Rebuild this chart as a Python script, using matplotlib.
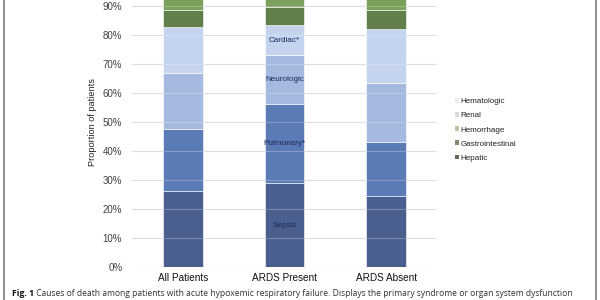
import matplotlib
matplotlib.use("Agg")
import matplotlib.pyplot as plt
import numpy as np
from matplotlib.patches import Patch
from matplotlib.lines import Line2D

categories = ["All Patients", "ARDS Present", "ARDS Absent"]
causes = ["Sepsis", "Pulmonary", "Neurologic", "Cardiac", "Hepatic",
          "Gastrointestinal", "Hemorrhage", "Renal", "Hematologic"]
sepsis = [26.1, 28.9, 24.5]
pulmonary = [21.4, 27.4, 18.5]
neurologic = [19.4, 16.9, 20.6]
cardiac = [15.9, 10.3, 18.7]
hepatic = [5.9, 6.4, 6.3]
gastrointestinal = [4.8, 4.5, 5.0]
hemorrhage = [2.5, 2.0, 2.5]
renal = [2.0, 2.0, 2.0]
hematologic = [2.0, 1.6, 1.9]
series = [sepsis, pulmonary, neurologic, cardiac, hepatic,
          gastrointestinal, hemorrhage, renal, hematologic]
colors = ["#4b5f8e", "#5a7bb6", "#a6b9e1", "#c5d4ee", "#607f4a",
          "#7aa05c", "#b6cc9e", "#d5dccd", "#eeeeee"]
inbar_labels = {"Sepsis": "Sepsis", "Pulmonary": "Pulmonary*",
                "Neurologic": "Neurologic", "Cardiac": "Cardiac*"}
legend_items = ["Hematologic", "Renal", "Hemorrhage", "Gastrointestinal", "Hepatic"]
legend_colors = ["#ececec", "#d9dcd5", "#b6cc9e", "#7f8f6e", "#5f6f55"]
yticks = np.arange(0, 91, 10)
caption_bold = "Fig. 1"
caption_text = " Causes of death among patients with acute hypoxemic respiratory failure. Displays the primary syndrome or organ system dysfunction"

plt.rcParams['font.family'] = ['Liberation Sans', 'DejaVu Sans']

fig = plt.figure(figsize=(6, 3), dpi=100)
ax = fig.add_axes([132/600, 1 - 267/300, 305/600, 289.7/300])

x = np.arange(len(categories))
bottom = np.zeros(len(categories))
for name, vals, col in zip(causes, series, colors):
    v = np.array(vals) / 100.0
    ax.bar(x, v, width=0.39, bottom=bottom, color=col, edgecolor="white",
           linewidth=0.4, zorder=2)
    if name in inbar_labels:
        ax.text(x[1], bottom[1] + v[1] / 2, inbar_labels[name], ha="center",
                va="center", fontsize=5.9, color="#1c2a55", zorder=4)
    bottom += v

ax.set_xlim(-0.5, 2.5)
ax.set_ylim(0, 1.0)
ax.set_yticks(yticks / 100.0)
ax.set_yticklabels([f"{t}%" for t in yticks], fontsize=7, color="#404040")
ax.set_xticks(x)
ax.set_xticklabels(categories, fontsize=7.2, color="#111111")
ax.tick_params(axis="both", length=0)
ax.tick_params(axis="y", pad=7)
ax.tick_params(axis="x", pad=4)
for s in ax.spines.values():
    s.set_visible(False)
for t in yticks:
    ax.axhline(t / 100.0, color="#d4d4d4", linewidth=0.8, zorder=1)
    ax.axhline(t / 100.0, color="#ffffff", alpha=0.25, linewidth=0.8, zorder=3)
ax.yaxis.set_label_coords(-0.115, (267 - 123) / 289.7)
ax.set_ylabel("Proportion of patients", fontsize=6.6, color="#222222")

handles = [Patch(facecolor=c, edgecolor="none") for c in legend_colors]
leg = fig.legend(handles, legend_items, loc="upper left",
                 bbox_to_anchor=(451/600, 1 - 94/300), frameon=False,
                 fontsize=5.8, handlelength=0.55, handleheight=0.55,
                 handletextpad=0.12, labelspacing=0.85, borderpad=0)
for t in leg.get_texts():
    t.set_color("#222222")

# figure frame lines
fig.add_artist(Line2D([4/600, 4/600], [0, 1], color="#707070", linewidth=1.1))
fig.add_artist(Line2D([596/600, 596/600], [0, 1], color="#707070", linewidth=1.1))

t1 = fig.text(12/600, 1 - 293/300, caption_bold, fontsize=7.2, fontweight="bold",
              family=["Open Sans", "DejaVu Sans"], va="center", ha="left", color="#111111")
ann = plt.annotate(caption_text, xy=(1, 0.5), xycoords=t1, va="center", ha="left",
                   fontsize=7.0, family=["Open Sans", "DejaVu Sans"], color="#333333",
                   annotation_clip=False)

# fit caption width to the reference (ends near x=575 px)
fig.canvas.draw()
r = fig.canvas.get_renderer()
end = ann.get_window_extent(r).x1
start = t1.get_window_extent(r).x0
scale = (575 - start) / (end - start)
t1.set_fontsize(7.2 * scale)
ann.set_fontsize(7.0 * scale)

fig.savefig("out.png", dpi=100)
